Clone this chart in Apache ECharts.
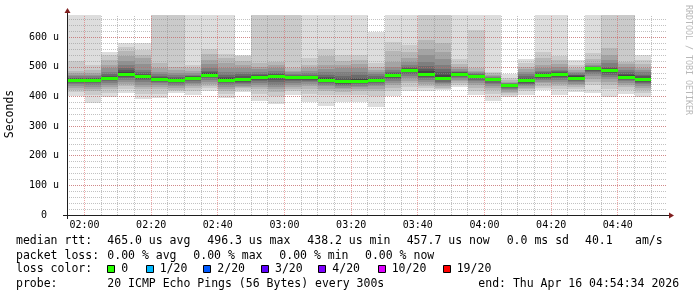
<!DOCTYPE html>
<html><head><meta charset="utf-8">
<script src="https://cdn.jsdelivr.net/npm/echarts@6/dist/echarts.min.js"></script>
<style>html,body{margin:0;padding:0;background:#fff}#c{width:697px;height:297px}</style>
</head><body><div id="c"></div>
<script>
// ---- data ----
// end time of each 5-minute RRD step
const stepEnds = ['02:00','02:05','02:10','02:15','02:20','02:25','02:30','02:35','02:40','02:45','02:50','02:55',
  '03:00','03:05','03:10','03:15','03:20','03:25','03:30','03:35','03:40','03:45','03:50','03:55',
  '04:00','04:05','04:10','04:15','04:20','04:25','04:30','04:35','04:40','04:45','04:50'];
// median rtt per step (us)
const median = [455,456,463,476,468,460,455,464,474,456,458,465,469,465,465,457,451,452,456,471,491,475,463,477,469,459,438.2,455,472,475,464,496.3,489,467,457.7];
// 20 sorted ping rtts per step (us), fastest .. slowest
const pings = [
  [402,414,422,430,437,442,446,449,452,454,456,458,461,464,468,472,478,485,520,720],
  [377,405,420,425,432,438,444,448,452,455,457,459,461,464,468,473,480,490,507,720],
  [397,412,424,432,440,446,451,455,459,462,464,467,470,476,484,495,505,524,541,551],
  [413,426,435,443,450,456,463,467,471,474,478,482,488,496,507,520,535,552,568,580],
  [391,410,424,432,440,448,454,459,463,466,470,473,477,482,490,510,529,540,557,582],
  [394,410,424,431,438,444,448,452,456,459,461,463,466,470,476,484,495,512,700,720],
  [413,418,422,428,434,439,444,448,451,454,456,459,462,466,472,480,490,501,700,720],
  [405,418,428,434,441,446,452,456,460,463,465,466,468,470,473,478,485,495,507,720],
  [417,427,436,443,450,455,462,466,470,473,475,478,482,487,495,508,524,542,560,720],
  [394,408,418,425,432,438,444,448,452,455,458,461,466,472,482,495,513,529,545,720],
  [416,422,428,432,437,442,446,450,454,457,460,464,469,476,484,495,505,520,535,540],
  [386,410,424,432,440,446,452,457,461,464,467,469,472,477,484,492,501,512,700,720],
  [375,400,416,425,432,440,448,455,462,468,470,473,476,480,486,495,505,518,700,720],
  [405,417,426,433,440,447,452,457,461,464,466,467,469,472,476,481,487,495,700,720],
  [383,410,425,434,442,448,453,457,461,464,466,468,470,474,479,486,495,505,530,720],
  [368,405,418,426,434,440,445,449,453,456,459,462,467,473,481,492,507,535,560,720],
  [383,405,416,424,430,436,440,443,447,450,453,457,462,470,482,495,505,520,540,720],
  [383,406,418,426,432,437,441,444,448,451,454,458,464,472,484,496,508,522,540,720],
  [364,403,418,426,434,440,444,448,452,455,457,460,463,468,475,482,490,500,512,619],
  [402,420,430,438,446,453,458,463,467,470,472,475,478,483,490,500,518,555,585,720],
  [420,433,444,453,462,470,476,482,487,490,492,494,497,501,507,515,529,550,574,720],
  [418,427,435,443,450,457,462,466,470,473,478,485,493,504,518,540,560,591,700,720],
  [422,426,430,436,441,446,450,454,458,461,467,474,482,493,505,525,551,580,700,720],
  [433,439,445,451,456,461,465,469,473,476,478,479,481,484,487,493,501,510,526,720],
  [405,418,430,438,445,451,456,461,465,468,470,471,473,475,478,482,487,495,626,720],
  [386,410,422,430,437,442,447,451,455,458,460,461,462,464,466,469,473,478,484,720],
  [397,405,411,416,421,425,429,432,435,437,439,440,441,442,444,446,450,455,462,475],
  [405,417,424,429,434,439,443,447,451,454,457,460,464,469,476,484,492,501,512,526],
  [422,430,437,444,450,455,460,464,468,471,473,475,478,482,486,495,507,530,551,720],
  [405,424,435,443,450,457,462,467,471,474,476,478,481,485,490,498,510,524,535,720],
  [414,424,431,438,443,448,452,456,460,463,466,468,471,474,478,484,490,497,507,523],
  [413,438,449,459,468,475,481,487,492,495,497,498,499,500,502,506,512,528,546,720],
  [398,425,438,448,458,467,473,479,484,488,490,493,496,501,512,524,540,563,700,720],
  [408,422,432,440,446,451,455,459,463,466,469,472,476,481,489,498,508,518,700,720],
  [398,412,421,428,435,441,446,450,454,457,460,463,468,474,482,490,497,510,524,540]
];
const xTickLabels = ['02:00','02:20','02:40','03:00','03:20','03:40','04:00','04:20','04:40'];
const lossColors = [['0','#26ff00'],['1/20','#00b8ff'],['2/20','#0059ff'],['3/20','#5e00ff'],['4/20','#7e00ff'],['10/20','#dd00ff'],['19/20','#ff0000']];
const rttStats = ['465.0 us avg','496.3 us max','438.2 us min','457.7 us now','0.0 ms sd','40.1','am/s'];
const lossStats = ['0.00 % avg','0.00 % max','0.00 % min','0.00 % now'];
const probeText = '20 ICMP Echo Pings (56 Bytes) every 300s';
const endText = 'end: Thu Apr 16 04:54:34 2026';
const stepMinutes = 5;
const viewStart = '01:54:45', viewEnd = '04:54:45';
const yMax = 675;

// ---- helpers ----
function toMin(s){ const p = s.split(':').map(Number); return p[0]*60 + p[1] + (p[2]||0)/60; }
function fmt(v){ const h = Math.floor(v/60), m = Math.round(v - h*60); return String(h).padStart(2,'0')+':'+String(m).padStart(2,'0'); }
const bandColors = ['#dddddd','#cacaca','#b7b7b7','#a4a4a4','#919191','#7e7e7e','#6b6b6b','#585858','#454545','#323232'];
const MONO = 'DejaVu Sans Mono';
const G = {left:67, top:15, width:600, height:200};
const xMin = toMin(viewStart), xMax = toMin(viewEnd);
const GRID_MINOR = 'rgba(143,143,143,0.55)', GRID_MAJOR = 'rgba(222,79,79,0.5)';

const smokeData = pings.map((p,i) => [toMin(stepEnds[i]) - stepMinutes, toMin(stepEnds[i])].concat(p));
const medianData = median.map((m,i) => [toMin(stepEnds[i]) - stepMinutes, toMin(stepEnds[i]), m]);
const vGrid = [];
for (let t = Math.ceil(xMin/stepMinutes)*stepMinutes; t < xMax; t += stepMinutes) vGrid.push([t, t % 20 === 0 ? 1 : 0]);

function clipTo(params, r){
  return echarts.graphic.clipRectByRect(r, {x: params.coordSys.x, y: params.coordSys.y, width: params.coordSys.width, height: params.coordSys.height});
}

const chart = echarts.init(document.getElementById('c'), null, {renderer:'canvas'});

const graphics = [];
const X0 = G.left, Y0 = G.top + G.height, X1 = G.left + G.width, YT = G.top;
graphics.push({type:'line', z:50, shape:{x1:X0-4, y1:Y0+0.5, x2:X1+4, y2:Y0+0.5}, style:{stroke:'#1f1f1f', lineWidth:1}});
graphics.push({type:'line', z:50, shape:{x1:X0+0.5, y1:Y0+4, x2:X0+0.5, y2:YT-4}, style:{stroke:'#1f1f1f', lineWidth:1}});
graphics.push({type:'polygon', z:51, shape:{points:[[X1+2,Y0-2.5],[X1+2,Y0+3.5],[X1+7,Y0+0.5]]}, style:{fill:'#801f1f'}});
graphics.push({type:'polygon', z:51, shape:{points:[[X0-2.5,YT-2],[X0+3.5,YT-2],[X0+0.5,YT-7]]}, style:{fill:'#801f1f'}});
graphics.push({type:'text', z:50, x:10.5, y:114, rotation:Math.PI/2, style:{text:'Seconds', font:'11.5px '+MONO, fill:'#000', align:'center', verticalAlign:'middle'}});
graphics.push({type:'text', z:50, x:688, y:5, rotation:-Math.PI/2, style:{text:'RRDTOOL / TOBI OETIKER', font:'8.3px '+MONO, fill:'#b8b8b8', align:'left', verticalAlign:'middle'}});
function txt(s, x, y){ graphics.push({type:'text', z:50, x:x, y:y, style:{text:s, font:'11.5px '+MONO, fill:'#000', align:'left', verticalAlign:'middle'}}); }
const rows = [240.7, 255.7, 269.5, 284];
txt('median rtt:', 16, rows[0]);
[107.3, 207.3, 307.3, 406.7, 506.7, 585, 635].forEach((x,i) => txt(rttStats[i], x, rows[0]));
txt('packet loss:', 16, rows[1]);
[107.3, 193.3, 279.3, 365].forEach((x,i) => txt(lossStats[i], x, rows[1]));
txt('loss color:', 16, rows[2]);
[107.3, 145.7, 203.3, 261, 318.3, 377.7, 442.7].forEach((x,i) => {
  graphics.push({type:'rect', z:50, shape:{x:Math.round(x)+0.5, y:265.5, width:7, height:7}, style:{fill:lossColors[i][1], stroke:'#000', lineWidth:1}});
  txt(lossColors[i][0], x+14, rows[2]);
});
txt('probe:', 16, rows[3]);
txt(probeText, 107.3, rows[3]);
txt(endText, 478.3, rows[3]);

chart.setOption({
  animation:false,
  backgroundColor:'#fff',
  grid:{left:G.left, top:G.top, width:G.width, height:G.height, containLabel:false},
  xAxis:{type:'value', min:xMin, max:xMax,
    axisLine:{show:false}, axisTick:{show:false}, splitLine:{show:false},
    axisLabel:{customValues:xTickLabels.map(toMin), formatter:v=>fmt(v), fontFamily:MONO, fontSize:10, color:'#000', margin:5}},
  yAxis:[
    {type:'value', min:0, max:yMax, interval:20, z:3,
      axisLine:{show:false}, axisTick:{show:false}, axisLabel:{show:false},
      splitLine:{show:true, showMinLine:false, showMaxLine:false, lineStyle:{color:GRID_MINOR, width:1, type:[1,1]}}},
    {type:'value', min:0, max:yMax, interval:100, z:3, position:'left',
      axisLine:{show:false}, axisTick:{show:false},
      axisLabel:{showMaxLabel:false, formatter:v=> v===0 ? '0  ' : v+' u', fontFamily:MONO, fontSize:10, color:'#000', margin:8},
      splitLine:{show:true, showMinLine:false, showMaxLine:false, lineStyle:{color:GRID_MAJOR, width:1, type:[1,1]}}}
  ],
  graphic:graphics,
  series:[
    {type:'custom', name:'smoke', z:1, silent:true, data:smokeData,
      renderItem(params, api){
        const t0 = api.value(0), t1 = api.value(1);
        const children = [];
        for (let b = 0; b < 10; b++){
          const lo = api.value(2+b), hi = api.value(21-b);
          const a = api.coord([t0, hi]), c = api.coord([t1, lo]);
          const x0 = Math.round(a[0]), x1 = Math.round(c[0]);
          const y0 = Math.round(a[1]), y1 = Math.round(c[1]);
          const shape = clipTo(params, {x:x0, y:y0, width:x1-x0, height:y1-y0});
          if (shape) children.push({type:'rect', shape:shape, style:{fill:bandColors[b]}});
        }
        return {type:'group', children:children};
      }},
    {type:'custom', name:'vgrid', z:3, silent:true, data:vGrid,
      renderItem(params, api){
        const t = api.value(0), major = api.value(1);
        const a = api.coord([t, 0]);
        const x = Math.floor(a[0]) + 0.5;
        return {type:'line', shape:{x1:x, y1:params.coordSys.y + params.coordSys.height, x2:x, y2:params.coordSys.y},
          style:{stroke: major ? GRID_MAJOR : GRID_MINOR, lineWidth:1, lineDash:[1,1]}};
      }},
    {type:'custom', name:'median', z:5, silent:true, data:medianData,
      renderItem(params, api){
        const a = api.coord([api.value(0), api.value(2)]), c = api.coord([api.value(1), api.value(2)]);
        const y = Math.round(a[1]) - 1;
        return {type:'rect', shape:{x:Math.round(a[0]), y:y, width:Math.round(c[0])-Math.round(a[0]), height:3}, style:{fill:'#26ff00'}};
      }}
  ]
});
</script>
</body></html>
